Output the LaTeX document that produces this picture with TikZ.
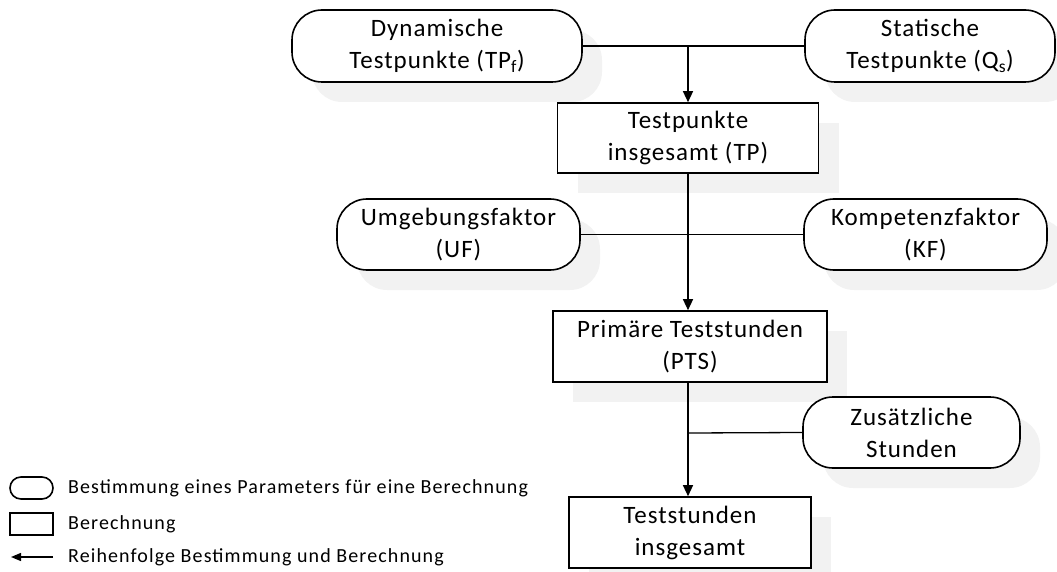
\documentclass[tikz,border=0pt]{standalone}
\usepackage{fontspec}
\setmainfont{Carlito}
\newfontfamily\mainf{Carlito}[LetterSpace=4]
\newfontfamily\legf{Carlito}[LetterSpace=5.5]
\usetikzlibrary{arrows.meta,shadows,positioning}
\begin{document}
\begin{tikzpicture}[x=1pt,y=-1pt,
  base/.style={draw=black,line width=1.6pt,fill=white,align=center,inner sep=0pt,
    font=\mainf\fontsize{25}{32}\selectfont,
    general shadow={fill=black!5,shadow xshift=20pt,shadow yshift=-20pt}},
  param/.style={base,rounded corners=30pt},
  calc/.style={base},
  conn/.style={draw=black,line width=1.3pt},
  arr/.style={conn,-{Triangle[length=11pt,width=10pt]}},
  legtext/.style={anchor=west,inner sep=0pt,font=\legf\fontsize{20}{24}\selectfont},
]
\useasboundingbox (0,0) rectangle (1057,572);
% main nodes
\node[param,minimum width=290pt,minimum height=72pt] (dyn) at (437,46) {Dynamische\\Testpunkte (TP\textsubscript{f})};
\node[param,minimum width=250pt,minimum height=72pt] (stat) at (930,46) {Statische\\Testpunkte (Q\textsubscript{s})};
\node[calc,minimum width=261pt,minimum height=70pt] (tp) at (688,138) {Testpunkte\\insgesamt (TP)};
\node[param,minimum width=243pt,minimum height=71pt] (uf) at (458.5,234.5) {Umgebungsfaktor\\(UF)};
\node[param,minimum width=243pt,minimum height=71pt] (kf) at (925.5,234.5) {Kompetenzfaktor\\(KF)};
\node[calc,minimum width=274pt,minimum height=71pt] (pts) at (690,346.5) {Primäre Teststunden\\(PTS)};
\node[param,minimum width=217pt,minimum height=71pt] (zus) at (911.5,432.5) {Zusätzliche\\Stunden};
\node[calc,minimum width=242pt,minimum height=71pt] (ts) at (690,532.5) {Teststunden\\insgesamt};
% connectors
\coordinate (j1) at (688,46);
\coordinate (j3) at (688,433);
\draw[conn] (dyn.east) -- (stat.west);
\draw[arr] (j1) -- (j1 |- tp.north);
\draw[conn] (uf.east) -- (kf.west);
\draw[arr] (tp.south) -- (tp.south |- pts.north);
\draw[conn] (zus.west) -- (j3);
\draw[arr] (pts.south -| j3) -- (j3 |- ts.north);
% legend
\node[draw=black,line width=1.6pt,rounded corners=11pt,minimum width=43pt,minimum height=22pt,inner sep=0pt] (lp) at (31.5,488) {};
\node[draw=black,line width=1.6pt,minimum width=43pt,minimum height=22pt,inner sep=0pt] (lr) at (31.5,524) {};
\coordinate (la1) at (53,557);
\coordinate (la2) at (11,557);
\draw[conn,-{Triangle[length=10pt,width=8pt]}] (la1) -- (la2);
\node[legtext] (t1) at (68,488) {Bestimmung eines Parameters für eine Berechnung};
\node[legtext] (t2) at (68,524) {Berechnung};
\node[legtext] (t3) at (68,557) {Reihenfolge Bestimmung und Berechnung};
\end{tikzpicture}
\end{document}
